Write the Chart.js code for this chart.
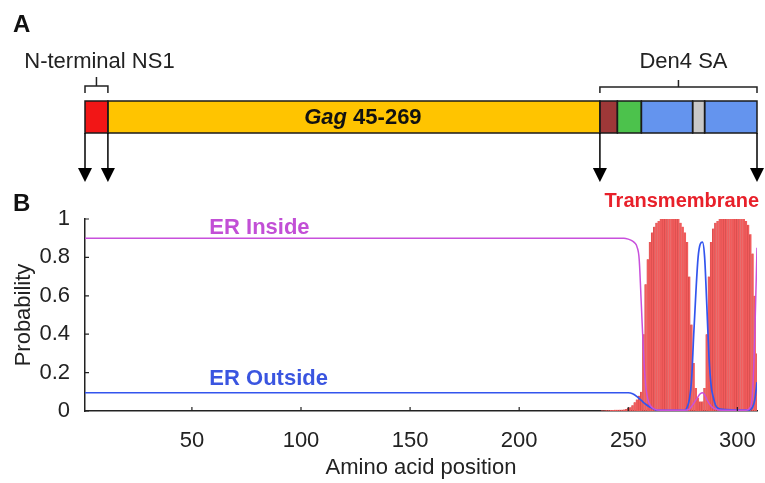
<!DOCTYPE html>
<html>
<head>
<meta charset="utf-8">
<script src="https://cdn.jsdelivr.net/npm/chart.js@4"></script>
<style>
  html, body { margin: 0; padding: 0; background: #fff; }
</style>
</head>
<body>
<canvas id="chart" width="765" height="483"></canvas>
<script>
const FONT = '"Liberation Sans", Arial, Helvetica, sans-serif';

// axis ticks
const xTicks = [50, 100, 150, 200, 250, 300];
const yTicks = [0, 0.2, 0.4, 0.6, 0.8, 1];

// transmembrane probability per residue, starting at residue 238
const tmStart = 238;
const tmProb = [
  0.003, 0.003, 0.004, 0.004, 0.005, 0.005, 0.006, 0.006, 0.007, 0.007,
  0.008, 0.01, 0.015, 0.02, 0.03, 0.045, 0.06, 0.08, 0.1, 0.4,
  0.66, 0.79, 0.88, 0.93, 0.96, 0.98, 0.99, 1, 1, 1,
  1, 1, 1, 1, 1, 1, 0.98, 0.96, 0.93, 0.88,
  0.7, 0.45, 0.25, 0.12, 0.07, 0.05, 0.05, 0.12, 0.4, 0.7,
  0.88, 0.95, 0.98, 0.99, 1, 1, 1, 1, 1, 1,
  1, 1, 1, 1, 1, 1, 0.99, 0.97, 0.92, 0.82,
  0.6, 0.3
];

// ER inside (magenta) probability
const insidePos = [1, 248, 250, 252, 253, 254, 255, 256, 257, 258, 259, 260, 262, 265, 276, 278, 280, 282, 283, 284, 285, 286, 288, 290, 293, 304, 306, 307, 308, 309];
const insideProb = [0.9, 0.9, 0.895, 0.885, 0.875, 0.855, 0.79, 0.55, 0.3, 0.13, 0.06, 0.03, 0.01, 0.004, 0.004, 0.01, 0.04, 0.075, 0.09, 0.095, 0.085, 0.06, 0.025, 0.01, 0.004, 0.004, 0.02, 0.1, 0.4, 0.85];

// ER outside (blue) probability
const outsidePos = [1, 250, 252, 254, 256, 258, 260, 262, 264, 276, 277, 278, 279, 280, 281, 282, 283, 284, 285, 286, 287, 288, 289, 290, 292, 305, 307, 308, 309];
const outsideProb = [0.095, 0.095, 0.09, 0.075, 0.055, 0.035, 0.02, 0.008, 0.003, 0.003, 0.02, 0.06, 0.16, 0.4, 0.62, 0.8, 0.87, 0.88, 0.8, 0.55, 0.28, 0.13, 0.07, 0.03, 0.01, 0.005, 0.02, 0.06, 0.15];

// construct schematic (panel A): domain boundaries in residue numbers
const segBounds = [1, 11.5, 237, 245, 256, 279.5, 285, 309];
const segColors = ['#f21616', '#ffc400', '#9e3838', '#4cc24c', '#6494ee', '#c8c8c8', '#6494ee'];
const arrowPos = [1, 11.5, 237, 309];

const schematic = {
  id: 'schematic',
  afterDraw(chart) {
    const ctx = chart.ctx;
    const xs = chart.scales.x;
    const ys = chart.scales.y;
    const area = chart.chartArea;
    const px = v => xs.getPixelForValue(v);
    const barTop = 101, barBot = 133;

    ctx.save();
    // inward tick marks
    ctx.strokeStyle = '#222';
    ctx.lineWidth = 1.2;
    ctx.beginPath();
    xTicks.forEach(v => {
      ctx.moveTo(px(v), area.bottom);
      ctx.lineTo(px(v), area.bottom - 4);
    });
    yTicks.forEach(v => {
      ctx.moveTo(area.left, ys.getPixelForValue(v));
      ctx.lineTo(area.left + 4, ys.getPixelForValue(v));
    });
    ctx.stroke();

    // segments
    for (let i = 0; i < segColors.length; i++) {
      const x0 = px(segBounds[i]), x1 = px(segBounds[i + 1]);
      ctx.fillStyle = segColors[i];
      ctx.fillRect(x0, barTop, x1 - x0, barBot - barTop);
    }
    ctx.strokeStyle = '#1a1a1a';
    ctx.lineWidth = 1.5;
    for (let i = 0; i < segColors.length; i++) {
      const x0 = px(segBounds[i]), x1 = px(segBounds[i + 1]);
      ctx.strokeRect(x0, barTop, x1 - x0, barBot - barTop);
    }

    // Gag label
    ctx.fillStyle = '#111';
    ctx.textBaseline = 'middle';
    ctx.font = 'italic bold 22px ' + FONT;
    const w1 = ctx.measureText('Gag').width;
    ctx.font = 'bold 22px ' + FONT;
    const w2 = ctx.measureText(' 45-269').width;
    const gagMid = (px(segBounds[1]) + px(segBounds[2])) / 2 + 9;
    let tx = gagMid - (w1 + w2) / 2;
    ctx.textAlign = 'left';
    ctx.font = 'italic bold 22px ' + FONT;
    ctx.fillText('Gag', tx, 118);
    ctx.font = 'bold 22px ' + FONT;
    ctx.fillText(' 45-269', tx + w1, 118);

    // arrows
    ctx.fillStyle = '#000';
    ctx.strokeStyle = '#000';
    ctx.lineWidth = 1.5;
    arrowPos.forEach(v => {
      const ax = px(v);
      ctx.beginPath();
      ctx.moveTo(ax, barBot);
      ctx.lineTo(ax, 170);
      ctx.stroke();
      ctx.beginPath();
      ctx.moveTo(ax - 7, 168);
      ctx.lineTo(ax + 7, 168);
      ctx.lineTo(ax, 182);
      ctx.closePath();
      ctx.fill();
    });

    // brackets
    ctx.strokeStyle = '#222';
    ctx.lineWidth = 1.5;
    const bracket = (a, b, yb, ytop) => {
      const x0 = px(a), x1 = px(b), xm = (x0 + x1) / 2;
      ctx.beginPath();
      ctx.moveTo(x0, 93);
      ctx.lineTo(x0, yb);
      ctx.lineTo(x1, yb);
      ctx.lineTo(x1, 93);
      ctx.moveTo(xm, yb);
      ctx.lineTo(xm, ytop);
      ctx.stroke();
      return xm;
    };
    const m1 = bracket(segBounds[0], segBounds[1], 86, 77);
    const m2 = bracket(segBounds[2], segBounds[7], 87, 80);

    ctx.fillStyle = '#222';
    ctx.textAlign = 'center';
    ctx.font = '22px ' + FONT;
    ctx.fillText('N-terminal NS1', m1 + 3, 62);
    ctx.fillText('Den4 SA', m2 + 5, 62);

    // panel letters
    ctx.textAlign = 'left';
    ctx.fillStyle = '#111';
    ctx.font = 'bold 24px ' + FONT;
    ctx.fillText('A', 13, 25);
    ctx.fillText('B', 13, 204);

    // series labels
    ctx.font = 'bold 22px ' + FONT;
    ctx.fillStyle = '#c24fd6';
    ctx.fillText('ER Inside', px(58), ys.getPixelForValue(0.955));
    ctx.fillStyle = '#3a55e0';
    ctx.fillText('ER Outside', px(58), ys.getPixelForValue(0.167));
    ctx.textAlign = 'right';
    ctx.fillStyle = '#e8202a';
    ctx.font = 'bold 20px ' + FONT;
    ctx.fillText('Transmembrane', area.right + 2, 201);
    ctx.restore();
  }
};

new Chart(document.getElementById('chart'), {
  type: 'bar',
  data: {
    datasets: [
      {
        type: 'line',
        label: 'ER Inside',
        data: insidePos.map((v, i) => ({ x: v, y: insideProb[i] })),
        borderColor: '#c850dc',
        borderWidth: 1.5,
        pointRadius: 0,
        cubicInterpolationMode: 'monotone',
        order: 1
      },
      {
        type: 'line',
        label: 'ER Outside',
        data: outsidePos.map((v, i) => ({ x: v, y: outsideProb[i] })),
        borderColor: '#3355ee',
        borderWidth: 1.7,
        pointRadius: 0,
        cubicInterpolationMode: 'monotone',
        order: 2
      },
      {
        type: 'bar',
        label: 'Transmembrane',
        data: tmProb.map((p, i) => ({ x: tmStart + i, y: p })),
        backgroundColor: '#f25c5c',
        borderColor: '#c94444',
        borderWidth: { left: 0.6, right: 0, top: 0, bottom: 0 },
        borderSkipped: false,
        barPercentage: 1,
        categoryPercentage: 1,
        order: 3
      }
    ]
  },
  options: {
    responsive: false,
    animation: false,
    layout: { padding: { left: 5, top: 219, right: 8, bottom: 0 } },
    plugins: { legend: { display: false }, tooltip: { enabled: false } },
    scales: {
      x: {
        type: 'linear',
        min: 1,
        max: 309,
        offset: false,
        grid: { display: false },
        border: { display: true, color: '#222', width: 1.5 },
        afterBuildTicks: s => { s.ticks = xTicks.map(v => ({ value: v })); },
        ticks: { font: { family: FONT, size: 22 }, color: '#222', padding: 9, maxRotation: 0 },
        title: { display: true, text: 'Amino acid position', font: { family: FONT, size: 22 }, color: '#222', padding: { top: 8, bottom: 2 } },
        afterFit: s => { s.height = 72; }
      },
      y: {
        min: 0,
        max: 1,
        grid: { display: false },
        border: { display: true, color: '#222', width: 1.5 },
        afterBuildTicks: s => { s.ticks = yTicks.map(v => ({ value: v })); },
        ticks: { font: { family: FONT, size: 22 }, color: '#222', padding: 7, callback: v => String(v) },
        title: { display: true, text: 'Probability', font: { family: FONT, size: 22 }, color: '#222', padding: { top: 6, bottom: 0 } },
        afterFit: s => { s.width = 80; }
      }
    }
  },
  plugins: [schematic]
});
</script>
</body>
</html>
